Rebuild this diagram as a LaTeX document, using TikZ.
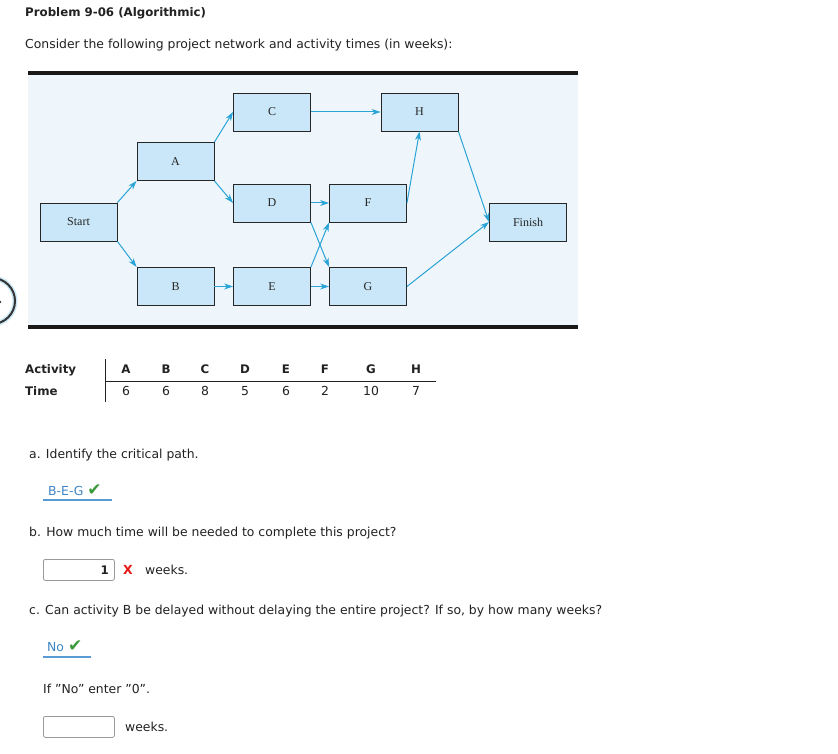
\documentclass[tikz,border=0pt]{standalone}
\usepackage{fontspec}
\setmainfont{DejaVu Sans}
\newfontfamily\figfont{Liberation Serif}
\usetikzlibrary{arrows.meta}
\definecolor{txt}{HTML}{222222}
\definecolor{figbg}{HTML}{EEF6FC}
\definecolor{boxfill}{HTML}{C9E7F8}
\definecolor{arr}{HTML}{2AA3D6}
\definecolor{ansblue}{HTML}{3F86C6}
\definecolor{ulblue}{HTML}{5B9BD5}
\definecolor{okgreen}{HTML}{3A9A3A}
\definecolor{badred}{HTML}{E81818}
\newcommand\regfont{\fontsize{12.4}{14}\selectfont}
\newcommand\boldfont{\bfseries\fontsize{11.8}{14}\selectfont}
\newcommand\okmark{\textcolor{okgreen}{\fontsize{17}{14}\selectfont ✔}}
\newcommand\qq{\symbol{34}}
\tikzset{
  act/.style={draw=black!85, line width=0.9pt, fill=boxfill, minimum width=77pt, minimum height=38pt, inner sep=0pt, font=\figfont\fontsize{12}{13}\selectfont, text=black!85},
  link/.style={draw=arr, line width=1pt, -{Stealth[length=9pt,width=6pt]}},
  para/.style={anchor=base west, inner sep=0pt, text=txt, font=\regfont},
  cell/.style={anchor=base, inner sep=0pt, text=txt, font=\regfont},
  hcell/.style={cell, font=\boldfont},
  inbox/.style={draw=black!40, fill=white, rounded corners=2pt, line width=0.8pt, minimum width=71pt, minimum height=21pt, inner sep=0pt, anchor=north west},
  bar/.style={line width=4pt, draw=black!90}
}
\begin{document}
\begin{tikzpicture}[x=1pt,y=-1pt]
\useasboundingbox[fill=white] (0,0) rectangle (838,754);
% left-edge circle
\begin{scope}
\clip (0,0) rectangle (838,754);
\draw[line width=5pt, draw=arr!25] (-8,301) circle (23);
\draw[line width=2pt, draw=black!80] (-8,301) circle (23);
\fill[black!80] (0,302) circle (1.3);
\end{scope}
% title
\node[para, font=\boldfont] (title) at (25,17) {Problem 9-06 (Algorithmic)};
\node[para] (intro) at (25,49) {Consider the following project network and activity times (in weeks):};
% figure background
\fill[figbg] (28,75) rectangle (578,325);
\draw[bar] (28,73.5) -- (578,73.5);
\draw[bar] (28,326.5) -- (578,326.5);
% nodes
\node[act] (start) at (78.5,222) {Start};
\node[act] (A) at (175.5,161.5) {A};
\node[act] (B) at (175.5,286.5) {B};
\node[act] (C) at (272,112) {C};
\node[act] (D) at (272,203) {D};
\node[act] (E) at (272,286.5) {E};
\node[act] (F) at (368,203) {F};
\node[act] (G) at (368,286.5) {G};
\node[act] (H) at (419.5,112) {H};
\node[act] (finish) at (528,222) {Finish};
% links
\draw[link] (start.north east) -- (A.south west);
\draw[link] (start.south east) -- (B.north west);
\draw[link] (A.north east) -- (C.west);
\draw[link] (A.south east) -- (D.west);
\draw[link] (B.east) -- (E.west);
\draw[link] (C.east) -- (H.west);
\draw[link] (D.east) -- (F.west);
\draw[link] (E.east) -- (G.west);
\draw[link] (D.south east) -- (G.north west);
\draw[link] (E.north east) -- (F.south west);
\draw[link] (F.east) -- (H.south);
\draw[link] (H.south east) -- (finish.west);
\draw[link] (G.east) -- (finish.west);
% table
\node[para, font=\boldfont] (tact) at (25,373) {Activity};
\node[para, font=\boldfont] (ttime) at (25,395) {Time};
\draw[txt, line width=0.7pt] (105,359) -- (105,402);
\draw[txt, line width=0.7pt] (105,381) -- (436,381);
\node[hcell] (hA) at (126,373) {A};
\node[hcell] (hB) at (166,373) {B};
\node[hcell] (hC) at (205,373) {C};
\node[hcell] (hD) at (245,373) {D};
\node[hcell] (hE) at (286,373) {E};
\node[hcell] (hF) at (325,373) {F};
\node[hcell] (hG) at (371,373) {G};
\node[hcell] (hH) at (416,373) {H};
\node[cell] (vA) at (126,395) {6};
\node[cell] (vB) at (166,395) {6};
\node[cell] (vC) at (205,395) {8};
\node[cell] (vD) at (245,395) {5};
\node[cell] (vE) at (286,395) {6};
\node[cell] (vF) at (325,395) {2};
\node[cell] (vG) at (371,395) {10};
\node[cell] (vH) at (416,395) {7};
% part a
\node[para] (qa) at (29,458) {a. Identify the critical path.};
\node[para, text=ansblue] (ansa) at (48,495) {B-E-G \okmark};
\draw[ulblue, line width=1.5pt] (43,500) -- (112,500);
% part b
\node[para] (qb) at (29,536) {b. How much time will be needed to complete this project?};
\node[inbox] (boxb) at (43,559) {};
\node[para, anchor=base east, font=\boldfont] (ansb) at (109,574) {1};
\node[para, text=badred, font=\bfseries\fontsize{12.5}{14}\selectfont] (xb) at (123,574) {X};
\node[para] (wb) at (145,574) {weeks.};
% part c
\node[para] (qc) at (29,614) {c. Can activity B be delayed without delaying the entire project? If so, by how many weeks?};
\node[para, text=ansblue] (ansc) at (47,651) {No \okmark};
\draw[ulblue, line width=1.5pt] (43,657) -- (91,657);
\node[para] (ifno) at (43,693) {If \qq No\qq{} enter \qq 0\qq .};
\node[inbox] (boxc) at (43,716) {};
\node[para] (wc) at (125,731) {weeks.};
\end{tikzpicture}
\end{document}
